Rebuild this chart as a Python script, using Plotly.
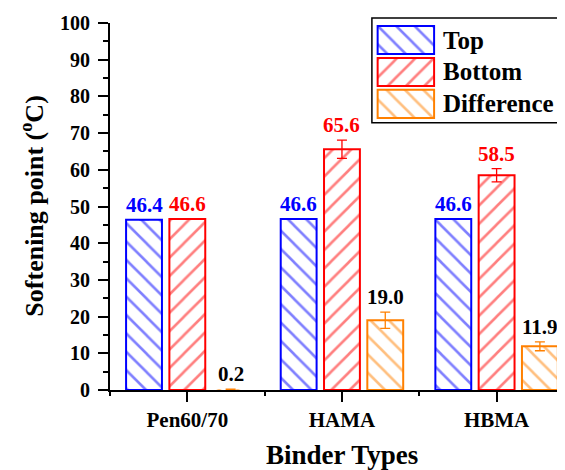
import plotly.graph_objects as go

# ---- data ----
categories = ["Pen60/70", "HAMA", "HBMA"]
top_vals = [46.4, 46.6, 46.6]
bottom_vals = [46.6, 65.6, 58.5]
diff_vals = [0.2, 19.0, 11.9]
top_err = [None, None, None]
bottom_err = [None, 2.5, 1.8]
diff_err = [None, 2.2, 1.2]
series_names = ["Top", "Bottom", "Difference"]
y_ticks = list(range(0, 101, 10))

FONT = "Liberation Serif, Times New Roman, serif"
colors = ["#0000FF", "#FF0000", "#FF8000"]
label_colors = ["#0000FF", "#FF0000", "#000000"]
shapes_pat = ["\\", "/", "\\"]
SLOT = 0.28
BW = 0.232

fig = go.Figure()
idx = list(range(len(categories)))
series = [(top_vals, top_err), (bottom_vals, bottom_err), (diff_vals, diff_err)]

annotations = []
for k, ((vals, errs), name) in enumerate(zip(series, series_names)):
    shift = (k - 1) * SLOT
    xs = [i + shift for i in idx]
    err_arr = [e if e is not None else float("nan") for e in errs]
    line_w = [2 if v >= 1 else 0 for v in vals]
    fig.add_trace(go.Bar(
        x=xs, y=vals, width=BW, name=name, showlegend=False,
        marker=dict(color="white", line=dict(color=colors[k], width=line_w),
                    pattern=dict(shape=shapes_pat[k], fgcolor=colors[k], bgcolor="white",
                                 size=13, solidity=0.2, fillmode="overlay")),
        error_y=dict(type="data", array=err_arr, visible=True, color=colors[k],
                     thickness=1.3, width=5),
        xaxis="x", yaxis="y",
    ))
    for x, v, e in zip(xs, vals, errs):
        annotations.append(dict(
            x=x, y=v + (e or 0), xref="x", yref="y", text=f"{v:.1f}",
            showarrow=False, yanchor="bottom", yshift=1,
            font=dict(family=FONT, size=21, color=label_colors[k], weight="bold")))

# legend swatches drawn in an inset axis
for k, name in enumerate(series_names):
    fig.add_trace(go.Bar(
        x=[1], y=[k], base=0, width=0.88, orientation="h", showlegend=False,
        marker=dict(color="white", line=dict(color=colors[k], width=2),
                    pattern=dict(shape=shapes_pat[k], fgcolor=colors[k], bgcolor="white",
                                 size=13, solidity=0.2, fillmode="overlay")),
        xaxis="x2", yaxis="y2", hoverinfo="skip",
    ))
    annotations.append(dict(
        x=0.735, xref="paper", y=k, yref="y2", text=name, showarrow=False,
        xanchor="left", yanchor="middle",
        font=dict(family=FONT, size=25, color="black", weight="bold")))

annotations.append(dict(
    x=-0.173, y=0.5, xref="paper", yref="paper", text="Softening point (<sup>o</sup>C)",
    textangle=-90, showarrow=False, xanchor="center", yanchor="middle",
    font=dict(family=FONT, size=26, color="black", weight="bold")))
annotations.append(dict(
    x=1, y=-0.177, xref="x", yref="paper", text="Binder Types",
    showarrow=False, xanchor="center", yanchor="middle",
    font=dict(family=FONT, size=27, color="black", weight="bold")))

fig.update_layout(
    width=557, height=462,
    margin=dict(l=102, r=5, t=15, b=80),
    paper_bgcolor="white", plot_bgcolor="white",
    barmode="overlay",
    annotations=annotations,
    shapes=[dict(type="rect", xref="paper", yref="paper", x0=0.582, x1=1.004,
                 y0=0.728, y1=1.0136, line=dict(color="black", width=1.5),
                 fillcolor="rgba(0,0,0,0)", layer="below")],
    xaxis=dict(
        domain=[0, 1], range=[-0.5, 2.41], tickvals=idx, ticktext=categories,
        showline=True, linecolor="black", linewidth=2, ticks="outside",
        ticklen=10, tickwidth=2, tickcolor="black", showgrid=False, zeroline=False,
        tickfont=dict(family=FONT, size=21, color="black", weight="bold"),
        minor=dict(tickvals=[-0.5, 0.5, 1.5], ticks="outside", ticklen=4,
                   tickwidth=2, tickcolor="black"),
    ),
    yaxis=dict(
        domain=[0, 1], range=[0, 100], tickvals=y_ticks, showline=True,
        linecolor="black", linewidth=2, ticks="outside", ticklen=10, tickwidth=2,
        tickcolor="black", showgrid=False, zeroline=False, ticklabelstandoff=4,
        tickfont=dict(family=FONT, size=20, color="black", weight="bold"),
        minor=dict(dtick=5, ticks="outside", ticklen=5, tickwidth=2, tickcolor="black"),
    ),
    xaxis2=dict(domain=[0.591, 0.724], range=[-0.03, 1.03], anchor="y2",
                visible=False, fixedrange=True),
    yaxis2=dict(domain=[0.736, 0.997], range=[2.5, -0.5], anchor="x2",
                visible=False, fixedrange=True),
)

fig.write_html("out.html")
